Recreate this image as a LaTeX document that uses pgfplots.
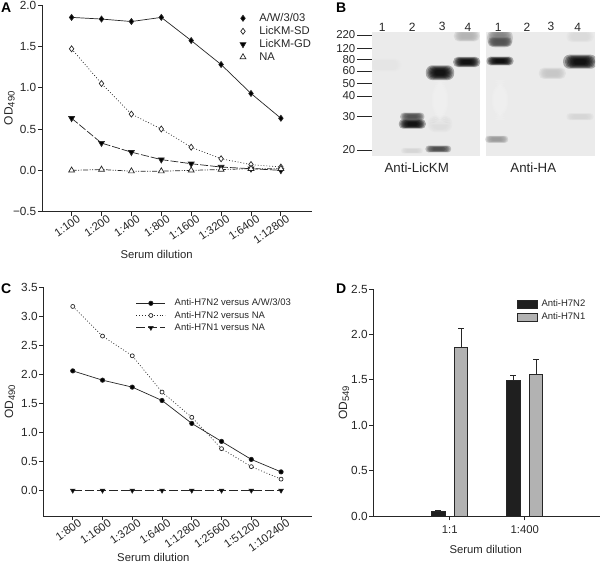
\documentclass[border=0pt]{standalone}
\usepackage{fontspec}
\setmainfont{Liberation Sans}
\usepackage{pgfplots}
\pgfplotsset{compat=1.18}
% one reference pixel = 1pt
\definecolor{ink}{HTML}{262626}
\definecolor{blot}{HTML}{EBEBEB}
\newcommand{\fs}[1]{\fontsize{#1}{#1}\selectfont}
\newcommand{\od}[1]{\fs{12}OD\raisebox{-2pt}{\fs{9.5}#1}}
\newcommand{\bandl}[6]{\fill[#5,fill opacity=.3,rounded corners={#4*#6*.9pt}]
  ([shift={({-#3*#6*1pt},{-#4*#6*1pt})}]axis cs:#1,#2) rectangle ([shift={({#3*#6*1pt},{#4*#6*1pt})}]axis cs:#1,#2);}
\newcommand{\band}[5]{%
  \bandl{#1}{#2}{#3}{#4}{#5}{1.35}\bandl{#1}{#2}{#3}{#4}{#5}{1.2}%
  \bandl{#1}{#2}{#3}{#4}{#5}{1.08}\bandl{#1}{#2}{#3}{#4}{#5}{.96}%
  \bandl{#1}{#2}{#3}{#4}{#5}{.84}\bandl{#1}{#2}{#3}{#4}{#5}{.72}%
  \bandl{#1}{#2}{#3}{#4}{#5}{.6}\bandl{#1}{#2}{#3}{#4}{#5}{.48}}
\pgfplotsset{
  panel/.style={
    scale only axis,
    axis x line=bottom, axis y line=left,
    axis line style={-,ink,line width=.9pt},
    tick style={ink,line width=.9pt},
    tick align=outside, major tick length=4pt,
    every tick label/.append style={text=ink},
    clip=false,
    y tick label style={font=\fs{11.8},inner sep=1.5pt},
    label style={font=\fs{11.3},text=ink,inner sep=0pt},
  },
  dilution/.style={
    xmin=-0.99, xmax=8.03, xtick={0,...,7},
    x tick label style={font=\fs{11.3},rotate=35,anchor=north east,inner sep=1pt,xshift=6pt,yshift=-.5pt},
  },
  ser/.style={ink,line width=.7pt},
  mk/.style={mark options={solid,ink,line width=.7pt,#1}},
  dotline/.style={dash pattern=on .9pt off 2pt},
  longdash/.style={dash pattern=on 8pt off 2pt},
  dashdots/.style={dash pattern=on 5pt off 1.5pt on 1pt off 1.5pt on 1pt off 1.5pt},
}
\begin{document}
\begin{tikzpicture}
\path[use as bounding box] (0pt,0pt) rectangle (600pt,562pt);

% A
\begin{axis}[panel,dilution,
  at={(42pt,350.3pt)},anchor=south west,width=269.7pt,height=206.7pt,
  ymin=-0.5,ymax=2,ytick={-0.5,0,0.5,1,1.5,2},
  yticklabels={−0.5,0.0,0.5,1.0,1.5,2.0},
  xticklabels={1:100,1:200,1:400,1:800,1:1600,1:3200,1:6400,1:12800},
  xlabel={Serum dilution},ylabel={\od{490}},
  x label style={at={(axis description cs:0.425,-0.205)},anchor=center},
  y label style={at={(axis description cs:-0.121,0.5)},anchor=center},
  legend style={at={(axis cs:5.58,1.9)},anchor=north west,draw=none,fill=none,
    font=\fs{11.2},row sep=3.4pt,inner sep=0pt,nodes={inner sep=0pt,text=ink}},
  legend cell align=left,
  legend image code/.code={\draw[#1] plot coordinates {(0pt,0pt)}; \path (-4pt,0pt) (16pt,0pt);},
]
\addplot[ser,mark=diamond*,mark size=3pt,mk={fill=black}] coordinates
  {(0,1.85)(1,1.83)(2,1.80)(3,1.85)(4,1.57)(5,1.28)(6,0.93)(7,0.63)};
\addplot[ser,dotline,mark=diamond*,mark size=3pt,mk={fill=white}] coordinates
  {(0,1.47)(1,1.05)(2,0.68)(3,0.50)(4,0.28)(5,0.14)(6,0.07)(7,0.04)};
\addplot[ser,longdash,mark=triangle*,mark size=3.4pt,mk={fill=black,rotate=180}] coordinates
  {(0,0.63)(1,0.33)(2,0.22)(3,0.13)(4,0.08)(5,0.04)(6,0.02)(7,0.0)};
\addplot[ser,dashdots,mark=triangle*,mark size=3.4pt,mk={fill=white}] coordinates
  {(0,0.0)(1,0.01)(2,-0.01)(3,-0.01)(4,0.0)(5,0.01)(6,0.02)(7,0.02)};
\legend{A/W/3/03,LicKM-SD,LicKM-GD,NA}
\end{axis}

% C
\begin{axis}[panel,dilution,
  at={(43.3pt,46pt)},anchor=south west,width=268.4pt,height=228.7pt,
  ymin=-0.44,ymax=3.5,ytick={0,0.5,1,1.5,2,2.5,3,3.5},
  yticklabels={0.0,0.5,1.0,1.5,2.0,2.5,3.0,3.5},
  xticklabels={1:800,1:1600,1:3200,1:6400,1:12800,1:25600,1:51200,1:102400},
  xlabel={Serum dilution},ylabel={\od{490}},
  x label style={at={(axis description cs:0.41,-0.18)},anchor=center},
  y label style={at={(axis description cs:-0.124,0.5)},anchor=center},
  legend style={at={(axis cs:2.12,3.3)},anchor=north west,draw=none,fill=none,
    font=\fs{9.5},row sep=3.8pt,inner sep=0pt,nodes={inner sep=0pt,text=ink}},
  legend cell align=left,
  legend image code/.code={\draw[#1,mark repeat=2,mark phase=2] plot coordinates {(0pt,0pt)(14.5pt,0pt)(29pt,0pt)}; \path (38pt,0pt);},
]
\addplot[ser,mark=*,mark size=2.2pt,mk={fill=black}] coordinates
  {(0,2.06)(1,1.90)(2,1.78)(3,1.55)(4,1.155)(5,0.845)(6,0.535)(7,0.32)};
\addplot[ser,dotline,mark=*,mark size=2pt,mk={fill=white}] coordinates
  {(0,3.17)(1,2.66)(2,2.32)(3,1.695)(4,1.26)(5,0.72)(6,0.41)(7,0.195)};
\addplot[ser,dash pattern=on 9pt off 3pt,mark=triangle*,mark size=2.6pt,mk={fill=black,rotate=180}] coordinates
  {(0,0)(1,0)(2,0)(3,0)(4,0)(5,0)(6,0)(7,0)};
\legend{Anti-H7N2 versus A/W/3/03,Anti-H7N2 versus NA,Anti-H7N1 versus NA}
\end{axis}

% D, bars sit at category +- 11.3 px (75 px per category)
\begin{axis}[panel,
  at={(373.3pt,45.7pt)},anchor=south west,width=226.7pt,height=227.3pt,
  xmin=-1.019,xmax=2.004,ymin=0,ymax=2.5,
  xtick={0,1},xticklabels={1:1,1:400},
  ytick={0,0.5,1,1.5,2,2.5},yticklabels={0.0,0.5,1.0,1.5,2.0,2.5},
  x tick label style={font=\fs{11.3},yshift=-2pt},
  xlabel={Serum dilution},ylabel={\od{549}},
  x label style={at={(axis description cs:0.496,-0.148)},anchor=center},
  y label style={at={(axis description cs:-0.129,0.5)},anchor=center},
  legend style={at={(axis cs:0.89,2.38)},anchor=north west,draw=none,fill=none,
    font=\fs{9.5},row sep=4.6pt,inner sep=0pt,nodes={inner sep=0pt,text=ink}},
  legend cell align=left,
  legend image code/.code={\draw[#1,line width=.9pt,solid] (0pt,-3.7pt) rectangle (20pt,3.7pt); \path (24pt,0pt);},
]
\addplot[ybar,bar width=13.5pt,bar shift=0pt,draw=ink,fill=black!88,line width=.8pt,
  error bars/.cd,y dir=plus,y explicit,error mark options={rotate=90,mark size=3pt,ink,line width=.8pt},
  error bar style={ink,line width=.8pt}] coordinates
  {(-0.151,0.05) +- (0,0.01) (0.849,1.49) +- (0,0.06)};
\addplot[ybar,bar width=13.5pt,bar shift=0pt,draw=ink,fill=black!30,line width=.8pt,
  error bars/.cd,y dir=plus,y explicit,error mark options={rotate=90,mark size=3pt,ink,line width=.8pt},
  error bar style={ink,line width=.8pt}] coordinates
  {(0.151,1.86) +- (0,0.21) (1.151,1.56) +- (0,0.17)};
\legend{Anti-H7N2,Anti-H7N1}
\end{axis}

% B, axis coordinates are reference pixels
\begin{axis}[
  scale only axis,at={(372pt,406pt)},anchor=south west,width=223pt,height=123.7pt,
  xmin=372,xmax=595,ymin=32.3,ymax=156,y dir=reverse,
  axis y line=left,axis x line=top,axis line style={draw=none,-},
  tick align=outside,
  ytick={35,48.3,59.3,71,83.3,96,116.7,150},
  yticklabels={220,120,80,60,50,40,30,20},
  y tick style={ink,line width=.9pt},major tick length=15pt,
  y tick label style={font=\fs{11.4},text=ink,inner sep=1.5pt},
  xtick={382.3,412.3,442.3,468,498.3,527,551,577.7},
  xticklabels={1,2,3,4,1,2,3,4},
  x tick style={draw=none},
  x tick label style={font=\fs{12},text=ink,yshift=-15pt,inner sep=1pt,anchor=south},
]
\fill[blot] (axis cs:372,32.3) rectangle (axis cs:480,156);
\fill[blot] (axis cs:486,32.3) rectangle (axis cs:595,156);
% left blot
\band{385}{65}{12}{4.5}{black!10}
\band{412}{150.7}{8}{2}{black!16}
\band{412.3}{116.7}{9}{3}{black!70}
\band{412.3}{124}{10}{3.5}{black!97}
\band{440}{124}{9}{6}{black!13}
\band{440}{100}{6}{18}{black!5}
\band{438.3}{149}{9.5}{2.5}{black!72}
\band{440}{72.7}{10.5}{5.5}{black!97}
\band{466.7}{36}{9.5}{4}{black!30}
\band{466.7}{62}{10}{3.8}{black!97}
% right blot
\band{500}{38}{9.5}{7}{black!50}
\band{500}{42}{9}{3.5}{black!68}
\band{500}{61}{10}{3.2}{black!98}
\band{500}{100}{6}{15}{black!5}
\band{496.7}{139.3}{8.5}{2.6}{black!40}
\band{552.3}{73.3}{10}{4.2}{black!22}
\band{580}{36.7}{10}{4}{black!14}
\band{580}{116.7}{10}{2.5}{black!16}
\band{580}{61.7}{12.5}{5.2}{black!97}
\end{axis}

\node[font=\fs{13.3},text=ink] at (416.7pt,394.7pt) {Anti-LicKM};
\node[font=\fs{13.3},text=ink] at (533.3pt,394.7pt) {Anti-HA};

\node[font=\bfseries\fs{14},anchor=base west,inner sep=0pt] at (1pt,549pt) {A};
\node[font=\bfseries\fs{14},anchor=base west,inner sep=0pt] at (336pt,549.5pt) {B};
\node[font=\bfseries\fs{14},anchor=base west,inner sep=0pt] at (1pt,268pt) {C};
\node[font=\bfseries\fs{14},anchor=base west,inner sep=0pt] at (336pt,268pt) {D};
\end{tikzpicture}
\end{document}
